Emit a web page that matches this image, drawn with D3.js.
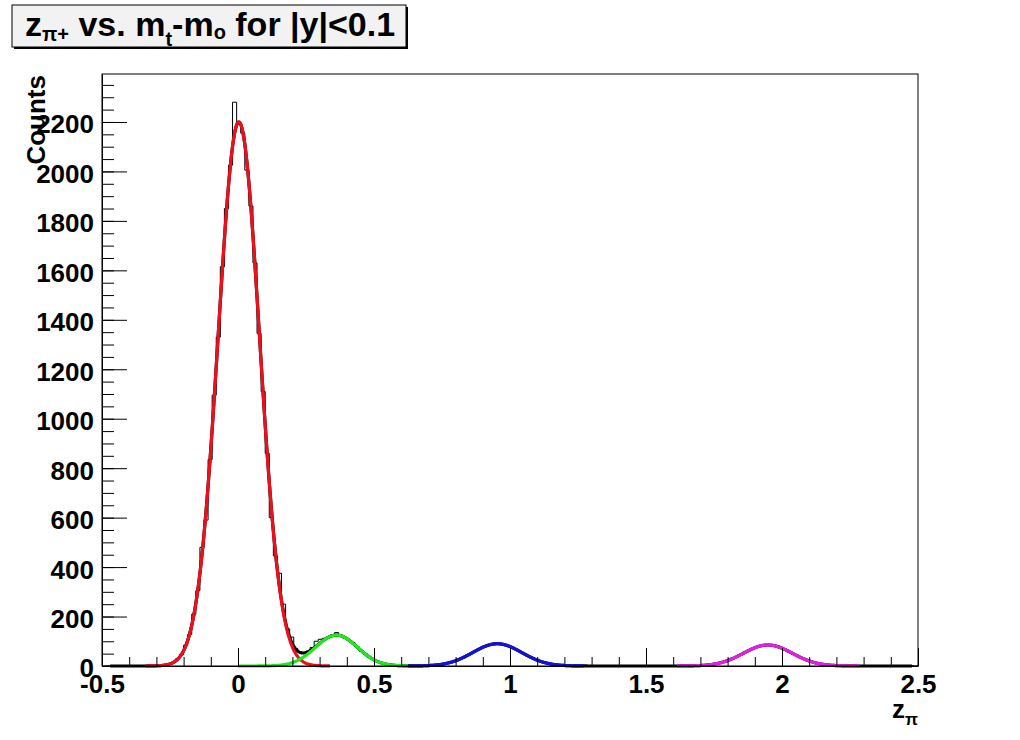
<!DOCTYPE html>
<meta charset="utf-8">
<style>
    html,
    body {
        margin: 0;
        background: #fff;
    }

    svg {
        display: block;
        font-family: "Liberation Sans", Arial, sans-serif;
        font-weight: bold;
    }

    .axis text {
        font-size: 26px;
        font-weight: bold;
        fill: #000;
    }

    .axis line,
    .axis path {
        stroke: #000;
        stroke-width: 1px;
    }

    .hist {
        fill: none;
        stroke: #000;
        stroke-width: 1px;
    }

    .fit {
        fill: none;
        stroke-width: 3.2px;
        stroke-linejoin: round;
    }
</style>

<body>
    <script src="https://d3js.org/d3.v7.min.js"></script>
    <script>

        // histogram: 200 bins from -0.5 to 2.5
        var binLow = -0.5,
            binWidth = 0.015;

        var counts = [
            0, 1, 0, 0, 1, 0, 1, 0, 2, 1,
            1, 0, 2, 1, 3, 4, 9, 15, 29, 46,
            84, 128, 210, 305, 480, 590, 835, 1095, 1330, 1615,
            1850, 2025, 2280, 2190, 2155, 2005, 1860, 1630, 1345, 1110,
            860, 600, 445, 375, 250, 150, 117, 70, 57, 52,
            60, 75, 100, 108, 112, 118, 126, 135, 124, 113,
            104, 95, 78, 60, 50, 35, 27, 19, 12, 8,
            6, 3, 2, 1, 1, 0, 1, 0, 1, 2,
            2, 4, 5, 8, 11, 14, 21, 27, 33, 44,
            50, 62, 68, 79, 85, 87, 92, 88, 86, 83,
            73, 68, 57, 50, 39, 33, 24, 19, 15, 9,
            7, 5, 3, 2, 1, 1, 0, 0, 1, 0,
            0, 1, 0, 0, 0, 1, 0, 0, 0, 1,
            0, 0, 0, 0, 1, 0, 0, 1, 0, 0,
            1, 0, 1, 1, 0, 1, 2, 3, 4, 6,
            9, 13, 17, 24, 29, 38, 45, 55, 62, 71,
            76, 82, 84, 86, 82, 82, 72, 67, 56, 49,
            41, 32, 26, 19, 15, 10, 7, 5, 3, 2,
            1, 1, 0, 0, 1, 0, 0, 0, 1, 0,
            0, 0, 0, 1, 0, 0, 0, 2, 1, 0
        ];

        // gaussian fits: amplitude, mean, sigma, fit range
        var fitColors = ["#ee0f1c", "#1ee81e", "#1212dc", "#e21fe2"];
        var fitAmp = [2200, 125, 90, 85];
        var fitMean = [0.003, 0.362, 0.953, 1.948];
        var fitSigma = [0.076, 0.077, 0.09, 0.09];
        var fitFrom = [-0.342, 0.0, 0.625, 1.613];
        var fitTo = [0.338, 0.625, 1.27, 2.287];
        var totalRange = [-0.47, 2.48];

        var xTicks = [-0.5, 0, 0.5, 1, 1.5, 2, 2.5];
        var xTickLabels = ["-0.5", "0", "0.5", "1", "1.5", "2", "2.5"];
        var yTicks = [0, 200, 400, 600, 800, 1000, 1200, 1400, 1600, 1800, 2000, 2200];
        var yTickLabels = ["0", "200", "400", "600", "800", "1000", "1200", "1400", "1600", "1800", "2000", "2200"];

        var width = 1020,
            height = 740;

        // frame edges (note: "top" is reserved by window)
        var fLeft = 102, fRight = 918, fTop = 74, fBottom = 666;

        var x = d3.scaleLinear().domain([-0.5, 2.5]).range([fLeft, fRight]);
        var y = d3.scaleLinear().domain([0, d3.max(counts) * 1.05]).range([fBottom, fTop]);

        var svg = d3.select("body").append("svg")
            .attr("width", width)
            .attr("height", height);

        svg.append("rect")
            .attr("width", width)
            .attr("height", height)
            .attr("fill", "#fff");

        // histogram outline
        var steps = [];
        counts.forEach(function (c, i) {
            steps.push([binLow + i * binWidth, c]);
        });
        steps.push([binLow + counts.length * binWidth, counts[counts.length - 1]]);

        var line = d3.line()
            .x(function (d) { return x(d[0]); })
            .y(function (d) { return y(d[1]); });

        svg.append("path")
            .datum(steps)
            .attr("class", "hist")
            .attr("d", line.curve(d3.curveStepAfter));

        line.curve(d3.curveLinear);

        function gaus(i, v) {
            var z = (v - fitMean[i]) / fitSigma[i];
            return fitAmp[i] * Math.exp(-0.5 * z * z);
        }

        // total fit (black) under the single components
        var tot = d3.range(totalRange[0], totalRange[1], 0.002).map(function (v) {
            var s = 0;
            for (var i = 0; i < fitAmp.length; i++) s += gaus(i, v);
            return [v, s];
        });
        svg.append("path")
            .datum(tot)
            .attr("class", "fit")
            .attr("stroke", "#000")
            .attr("d", line);

        fitColors.forEach(function (col, i) {
            var pts = d3.range(fitFrom[i], fitTo[i], 0.002).map(function (v) { return [v, gaus(i, v)]; });
            pts.push([fitTo[i], gaus(i, fitTo[i])]);
            svg.append("path")
                .datum(pts)
                .attr("class", "fit")
                .attr("stroke", col)
                .attr("d", line);
        });

        // frame
        svg.append("rect")
            .attr("x", fLeft)
            .attr("y", fTop)
            .attr("width", fRight - fLeft)
            .attr("height", fBottom - fTop)
            .attr("fill", "none")
            .attr("stroke", "#000")
            .attr("stroke-width", 1);

        // x axis
        svg.append("g")
            .attr("class", "axis")
            .attr("transform", "translate(0," + fBottom + ")")
            .call(d3.axisBottom(x).tickValues(d3.range(0, 31).map(function (k) { return -0.5 + k * 0.1; }))
                .tickSizeInner(-9).tickSizeOuter(0).tickFormat(""))
            .select(".domain").remove();

        svg.append("g")
            .attr("class", "axis")
            .attr("transform", "translate(0," + fBottom + ")")
            .call(d3.axisBottom(x).tickValues(xTicks)
                .tickSizeInner(-18).tickSizeOuter(0).tickPadding(9)
                .tickFormat(function (d) { return xTickLabels[xTicks.indexOf(d)]; }));

        // y axis
        svg.append("g")
            .attr("class", "axis")
            .attr("transform", "translate(" + fLeft + ",0)")
            .call(d3.axisLeft(y).tickValues(d3.range(0, 2400, 50))
                .tickSizeInner(-12).tickSizeOuter(0).tickFormat(""))
            .select(".domain").remove();

        svg.append("g")
            .attr("class", "axis")
            .attr("transform", "translate(" + fLeft + ",0)")
            .call(d3.axisLeft(y).tickValues(yTicks)
                .tickSizeInner(-25).tickSizeOuter(0).tickPadding(8)
                .tickFormat(function (d) { return yTickLabels[yTicks.indexOf(d)]; }))
            .selectAll("text").attr("dy", "0.42em");

        // axis titles
        svg.append("text")
            .attr("transform", "translate(45," + (fTop + 1) + ") rotate(-90)")
            .attr("text-anchor", "end")
            .attr("font-size", 26)
            .text("Counts");

        var xt = svg.append("text")
            .attr("x", fRight)
            .attr("y", 718)
            .attr("text-anchor", "end")
            .attr("font-size", 26);
        xt.append("tspan").text("z");
        xt.append("tspan").attr("font-size", 17).attr("dy", 7).text("π");

        // title box
        svg.append("rect")
            .attr("x", 14)
            .attr("y", 7)
            .attr("width", 394)
            .attr("height", 42)
            .attr("fill", "#000");
        svg.append("rect")
            .attr("x", 12)
            .attr("y", 5)
            .attr("width", 394)
            .attr("height", 42)
            .attr("fill", "#f2f2f2")
            .attr("stroke", "#000")
            .attr("stroke-width", 1);

        var tt = svg.append("text")
            .attr("x", 25)
            .attr("y", 36)
            .attr("font-size", 34);
        tt.append("tspan").text("z");
        tt.append("tspan").attr("font-size", 20).attr("dy", 5).text("π+");
        tt.append("tspan").attr("dy", -5).text(" vs. m");
        tt.append("tspan").attr("font-size", 20).attr("dy", 10).text("t");
        tt.append("tspan").attr("dy", -10).text("-m");
        tt.append("tspan").attr("font-size", 20).attr("dy", 3).text("o");
        tt.append("tspan").attr("dy", -3).text(" for |y|<0.1");

    </script>
</body>

</html>
